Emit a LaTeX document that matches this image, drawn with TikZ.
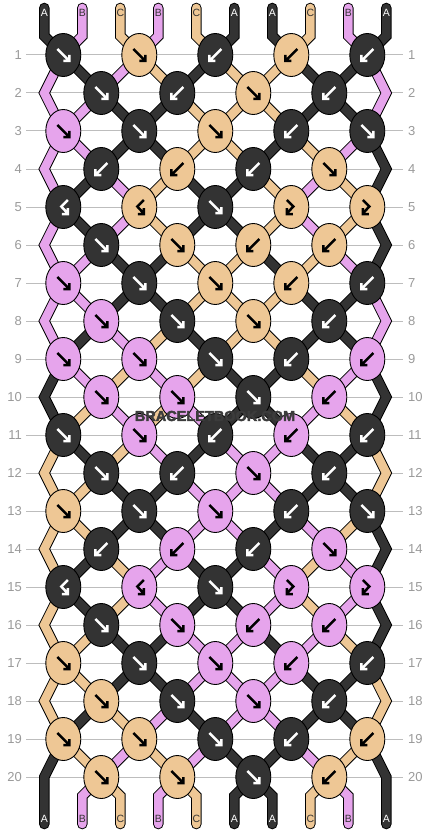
\documentclass[tikz,border=0pt]{standalone}
\usepackage{fontspec}
\setmainfont{Liberation Sans}
\usetikzlibrary{shapes.geometric}
\definecolor{cA}{HTML}{333333}
\definecolor{cB}{HTML}{E6A4EC}
\definecolor{cC}{HTML}{EEC795}
\definecolor{rowline}{HTML}{BDBDBD}
\definecolor{rownum}{HTML}{9A9A9A}
\definecolor{wmark}{HTML}{3C3C3C}
\newcommand\defst[2]{\expandafter\def\csname st#1\endcsname{#2}}
\newcommand\defkn[2]{\expandafter\def\csname kn#1\endcsname{#2}}
\defst{0}{A,B,C,B,C,A,A,C,B,A}
\defst{1}{B,A,B,C,A,C,C,A,A,B}
\defst{2}{B,B,A,A,C,C,C,A,A,B}
\defst{3}{B,B,A,A,C,C,A,C,B,A}
\defst{4}{B,A,B,C,A,A,C,B,C,A}
\defst{5}{B,A,B,C,A,A,C,B,C,A}
\defst{6}{B,B,A,A,C,C,A,C,B,A}
\defst{7}{B,B,A,A,C,C,C,A,A,B}
\defst{8}{B,A,B,C,A,C,C,A,A,B}
\defst{9}{A,B,C,B,C,A,A,C,B,A}
\defst{10}{A,C,B,C,B,A,A,B,C,A}
\defst{11}{C,A,C,B,A,B,B,A,A,C}
\defst{12}{C,C,A,A,B,B,B,A,A,C}
\defst{13}{C,C,A,A,B,B,A,B,C,A}
\defst{14}{C,A,C,B,A,A,B,C,B,A}
\defst{15}{C,A,C,B,A,A,B,C,B,A}
\defst{16}{C,C,A,A,B,B,A,B,C,A}
\defst{17}{C,C,A,A,B,B,B,A,A,C}
\defst{18}{C,A,C,B,A,B,B,A,A,C}
\defst{19}{A,C,B,C,B,A,A,B,C,A}
\defst{20}{A,B,C,B,C,A,A,C,B,A}
\defkn{1}{A/F,C/F,A/B,C/B,A/B}
\defkn{2}{A/F,A/B,C/F,A/B}
\defkn{3}{B/F,A/F,C/F,A/B,A/F}
\defkn{4}{A/B,C/B,A/B,C/F}
\defkn{5}{A/Y,C/Y,A/F,C/X,C/X}
\defkn{6}{A/F,C/F,C/B,C/B}
\defkn{7}{B/F,A/F,C/F,C/B,A/B}
\defkn{8}{B/F,A/F,C/F,A/B}
\defkn{9}{B/F,B/F,A/F,A/B,B/B}
\defkn{10}{B/F,B/F,A/F,B/B}
\defkn{11}{A/F,B/F,A/B,B/B,A/B}
\defkn{12}{A/F,A/B,B/F,A/B}
\defkn{13}{C/F,A/F,B/F,A/B,A/F}
\defkn{14}{A/B,B/B,A/B,B/F}
\defkn{15}{A/Y,B/Y,A/F,B/X,B/X}
\defkn{16}{A/F,B/F,B/B,B/B}
\defkn{17}{C/F,A/F,B/F,B/B,A/B}
\defkn{18}{C/F,A/F,B/F,A/B}
\defkn{19}{C/F,C/F,A/F,A/B,C/B}
\defkn{20}{C/F,C/F,A/F,C/B}
% #1 = 1 for outline pass, 0 for fill pass; #2 = line width
\newcommand\strpass[2]{%
  \edef\cur{\csname st0\endcsname}%
  \foreach \sc [count=\i from 0] in \cur {
    \ifnum#1=1 \def\cc{black}\else\def\cc{c\sc}\fi
    \draw[line width=#2, draw=\cc, line cap=round, line join=miter] (t\i) -- (u\i) -- (p1-\i);
  }
  \foreach \r in {1,...,19}{
    \pgfmathtruncatemacro\rr{\r+1}
    \edef\cur{\csname st\r\endcsname}
    \foreach \sc [count=\i from 0] in \cur {
      \ifnum\i>0 \ifnum\i<9
        \ifnum#1=1 \def\cc{black}\else\def\cc{c\sc}\fi
        \draw[line width=#2, draw=\cc, line cap=round] (p\r-\i) -- (p\rr-\i);
      \fi\fi
    }
  }
  \foreach \r in {2,4,...,18}{
    \pgfmathtruncatemacro\ra{\r-1}
    \pgfmathtruncatemacro\rb{\r+1}
    \edef\cur{\csname st\r\endcsname}
    \foreach \sc [count=\i from 0] in \cur {
      \ifnum\i=0 \def\ok{1}\else\ifnum\i=9 \def\ok{1}\else\def\ok{0}\fi\fi
      \ifnum\ok=1
        \ifnum#1=1 \def\cc{black}\else\def\cc{c\sc}\fi
        \draw[line width=#2, draw=\cc, line cap=round, line join=miter] (p\ra-\i) -- (p\r-\i) -- (p\rb-\i);
      \fi
    }
  }
  \edef\cur{\csname st20\endcsname}%
  \foreach \sc [count=\i from 0] in \cur {
    \ifnum#1=1 \def\cc{black}\else\def\cc{c\sc}\fi
    \ifnum\i=0
      \draw[line width=#2, draw=\cc, line cap=round, line join=miter] (p19-\i) -- (p20-\i) -- (w\i);
    \else\ifnum\i=9
      \draw[line width=#2, draw=\cc, line cap=round, line join=miter] (p19-\i) -- (p20-\i) -- (w\i);
    \else
      \draw[line width=#2, draw=\cc, line cap=round, line join=miter] (p20-\i) -- (v\i) -- (w\i);
    \fi\fi
  }
}
\begin{document}
\begin{tikzpicture}[x=1pt,y=-1pt,
  knot/.style={ellipse, draw=black, line width=0.9pt, minimum width=35pt, minimum height=43pt, inner sep=0pt},
  glyph/.style={line width=2.5pt, line join=miter, line cap=butt},
  rownumst/.style={font=\fontsize{13}{13}\selectfont, text=rownum, inner sep=0pt},
  lbl/.style={font=\fontsize{10.5}{10.5}\selectfont, inner sep=0pt},
  wm/.style={font=\fontsize{14.5}{14.5}\selectfont\bfseries, inner sep=0pt, text=wmark},
]
\useasboundingbox (0,0) rectangle (430,832);
\fill[white] (0,0) rectangle (430,832);
% string positions at each row
\foreach \r in {1,...,20}{
  \foreach \i in {0,...,9}{
    \pgfmathsetmacro\yy{55+38*(\r-1)}
    \ifodd\r
      \pgfmathsetmacro\xx{63.3+76*floor(\i/2)}
    \else
      \pgfmathsetmacro\xx{ifthenelse(\i==0,44.3,ifthenelse(\i==9,386.3,101.3+76*floor((\i-1)/2)))}
    \fi
    \coordinate (p\r-\i) at (\xx,\yy);
  }
}
\foreach \i in {0,...,9}{
  \pgfmathsetmacro\xx{44.3+38*\i}
  \coordinate (t\i) at (\xx,8);
  \coordinate (u\i) at (\xx,36);
  \coordinate (v\i) at (\xx,796);
  \coordinate (w\i) at (\xx,824);
}
% row lines and numbers
\foreach \r in {1,...,20}{
  \pgfmathsetmacro\yy{55+38*(\r-1)}
  \node[rownumst, anchor=east] (nl\r) at (22,\yy) {\r};
  \node[rownumst, anchor=west] (nr\r) at (408,\yy) {\r};
  \coordinate (la\r) at (26,\yy);
  \coordinate (lb\r) at (403,\yy);
  \draw[rowline, line width=1pt] (la\r) -- (lb\r);
}
% strings
\strpass{1}{10.6pt}
\strpass{0}{8.6pt}
% knots
\foreach \r in {1,...,20}{
  \pgfmathsetmacro\yy{55+38*(\r-1)}
  \edef\kl{\csname kn\r\endcsname}
  \foreach \kc/\kt [count=\k from 0] in \kl {
    \ifodd\r \pgfmathsetmacro\xx{63.3+76*\k}\else\pgfmathsetmacro\xx{101.3+76*\k}\fi
    \node[knot, fill=c\kc] (k\r-\k) at (\xx,\yy) {};
    \if\kc A\def\gc{white}\else\def\gc{black}\fi
    \begin{scope}[shift={(\xx,\yy)}]
      \if\kt F\draw[glyph, draw=\gc] (-6,-6) -- (6,6) (6,0) -- (6,6) -- (0,6);\fi
      \if\kt B\draw[glyph, draw=\gc] (6,-6) -- (-6,6) (-6,0) -- (-6,6) -- (0,6);\fi
      \if\kt X\draw[glyph, draw=\gc] (-4.5,-7) -- (2,-0.5) -- (-4.5,6.5) (-4.5,1) -- (-4.5,7) -- (1.5,7);\fi
      \if\kt Y\draw[glyph, draw=\gc] (4.5,-7) -- (-2,-0.5) -- (4.5,6.5) (4.5,1) -- (4.5,7) -- (-1.5,7);\fi
    \end{scope}
  }
}
% string labels
\foreach \s [count=\i from 0] in {A,B,C,B,C,A,A,C,B,A}{
  \pgfmathsetmacro\xx{44.3+38*\i}
  \if\s A\def\lc{white}\else\def\lc{cA}\fi
  \node[lbl, text=\lc] (top\i) at (\xx,13) {\s};
  \node[lbl, text=\lc] (bot\i) at (\xx,819) {\s};
}
% watermark (drawn last, slightly emboldened)
\node[wm] (wm) at (215,416) {\special{pdf:code 2 Tr 0.235 0.235 0.235 RG 0.4 w}BRACELETBOOK.COM\special{pdf:code 0 Tr}};
\end{tikzpicture}
\end{document}
